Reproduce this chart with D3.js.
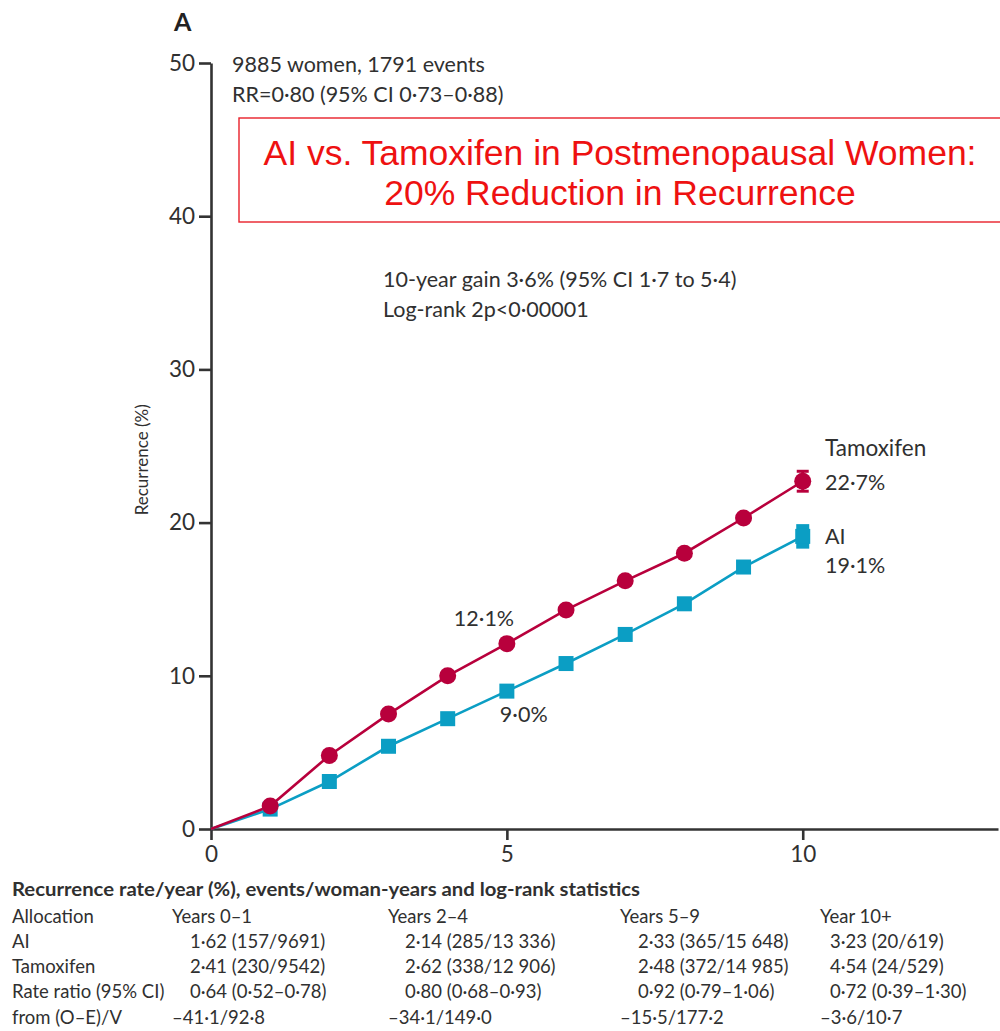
<!DOCTYPE html>
<html>
<head>
<meta charset="utf-8">
<script src="https://cdn.jsdelivr.net/npm/d3@7/dist/d3.min.js"></script>
<style>
  html, body { margin: 0; padding: 0; background: #fff; }
  svg { display: block; }
  text { font-family: Lato, "Open Sans", sans-serif; fill: #303030; }
</style>
</head>
<body>
<svg id="chart" width="1000" height="1031"></svg>
<script>
// Cumulative recurrence (%) by year since randomisation
const years = [0, 1, 2, 3, 4, 5, 6, 7, 8, 9, 10];
const tamoxifen = [0, 1.5, 4.8, 7.5, 10.0, 12.1, 14.3, 16.2, 18.0, 20.3, 22.7];
const ai = [0, 1.3, 3.1, 5.4, 7.2, 9.0, 10.8, 12.7, 14.7, 17.1, 19.1];
// 10-year standard errors shown as error bars
const tamoxifenSE = 0.65;
const aiSE = 0.8;

const yTicks = [0, 10, 20, 30, 40, 50];
const xTicks = [0, 5, 10];

// Summary table below the plot
const tableTitle = "Recurrence rate/year (%), events/woman-years and log-rank statistics";
const periods = ["Years 0–1", "Years 2–4", "Years 5–9", "Year 10+"];
const rowLabels = ["Allocation", "AI", "Tamoxifen", "Rate ratio (95% CI)", "from (O–E)/V"];
const aiRates = ["1·62 (157/9691)", "2·14 (285/13 336)", "2·33 (365/15 648)", "3·23 (20/619)"];
const tamRates = ["2·41 (230/9542)", "2·62 (338/12 906)", "2·48 (372/14 985)", "4·54 (24/529)"];
const rateRatios = ["0·64 (0·52–0·78)", "0·80 (0·68–0·93)", "0·92 (0·79–1·06)", "0·72 (0·39–1·30)"];
const oeV = ["–41·1/92·8", "–34·1/149·0", "–15·5/177·2", "–3·6/10·7"];

const RED = "#b8003c";
const TEAL = "#0b9ec4";
const INK = "#333333";

const svg = d3.select("#chart");

const x = d3.scaleLinear().domain([0, 13.3]).range([211, 998]);
const y = d3.scaleLinear().domain([0, 50]).range([829, 63]);

// Panel letter
svg.append("text").attr("x", 174).attr("y", 31)
  .style("font-size", "25px").style("font-weight", "bold").style("fill", "#222").text("A");

// Axes
const yAxis = svg.append("g").attr("transform", `translate(${x(0)},0)`)
  .call(d3.axisLeft(y).tickValues(yTicks).tickSize(12).tickSizeOuter(0).tickPadding(4));
const xAxis = svg.append("g").attr("transform", `translate(0,${y(0)})`)
  .call(d3.axisBottom(x).tickValues(xTicks).tickSize(11).tickSizeOuter(0).tickPadding(6));
[yAxis, xAxis].forEach(g => {
  g.select(".domain").attr("stroke", INK).attr("stroke-width", 2.6);
  g.selectAll(".tick line").attr("stroke", INK).attr("stroke-width", 2.6);
  g.selectAll(".tick text").style("font-size", "22.5px").style("font-family", "Lato, sans-serif").attr("fill", INK);
});

svg.append("text")
  .attr("transform", `translate(148,${y(24.1)}) rotate(-90)`)
  .attr("text-anchor", "middle")
  .style("font-size", "17px").text("Recurrence (%)");

// Curves
const line = d3.line().x((d, i) => x(years[i])).y(d => y(d));

svg.append("path").datum(ai).attr("d", line)
  .attr("fill", "none").attr("stroke", TEAL).attr("stroke-width", 2.6);
svg.append("path").datum(tamoxifen).attr("d", line)
  .attr("fill", "none").attr("stroke", RED).attr("stroke-width", 2.6);

// Error bars at 10 years
const last = years.length - 1;
svg.append("rect")
  .attr("x", x(years[last]) - 6.5).attr("width", 13)
  .attr("y", y(ai[last] + aiSE)).attr("height", y(ai[last] - aiSE) - y(ai[last] + aiSE))
  .attr("fill", TEAL);
const eb = svg.append("g").attr("stroke", RED).attr("stroke-width", 3);
eb.append("line").attr("x1", x(years[last])).attr("x2", x(years[last]))
  .attr("y1", y(tamoxifen[last] + tamoxifenSE)).attr("y2", y(tamoxifen[last] - tamoxifenSE));
[tamoxifen[last] + tamoxifenSE, tamoxifen[last] - tamoxifenSE].forEach(v => {
  eb.append("line").attr("x1", x(years[last]) - 6).attr("x2", x(years[last]) + 6)
    .attr("y1", y(v)).attr("y2", y(v));
});

// Markers (none at origin)
svg.append("g").selectAll("rect").data(ai.slice(1)).join("rect")
  .attr("x", (d, i) => x(years[i + 1]) - 7.5).attr("y", d => y(d) - 7.5)
  .attr("width", 15).attr("height", 15).attr("fill", TEAL);
svg.append("g").selectAll("circle").data(tamoxifen.slice(1)).join("circle")
  .attr("cx", (d, i) => x(years[i + 1])).attr("cy", d => y(d))
  .attr("r", 8.5).attr("fill", RED);

// Annotations
const note = (tx, ty, s, size) => svg.append("text").attr("x", tx).attr("y", ty)
  .style("font-size", (size || 21.5) + "px").text(s);

note(232, 72, "9885 women, 1791 events");
note(232, 102, "RR=0·80 (95% CI 0·73–0·88)");
note(383, 287, "10-year gain 3·6% (95% CI 1·7 to 5·4)");
note(383, 317, "Log-rank 2p<0·00001");
note(x(5) - 53, y(tamoxifen[5]) - 18, "12·1%");
note(x(5) - 7, y(ai[5]) + 31, "9·0%");
note(825, 456, "Tamoxifen", 22.5);
note(825, 490, "22·7%");
note(825, 544, "AI");
note(825, 573, "19·1%");

// Headline box
svg.append("rect").attr("x", 239).attr("y", 118).attr("width", 770).attr("height", 104)
  .attr("fill", "#fff").attr("stroke", "#e8202a").attr("stroke-width", 1.4);
const head = svg.append("text").attr("text-anchor", "middle")
  .style("font-family", "'Liberation Sans', Arial, sans-serif").style("font-size", "35.5px");
head.append("tspan").attr("x", 620).attr("y", 165).style("fill", "#ee1111")
  .text("AI vs. Tamoxifen in Postmenopausal Women:");
head.append("tspan").attr("x", 620).attr("y", 205).style("fill", "#ee1111")
  .text("20% Reduction in Recurrence");

// Table
const t = svg.append("g").style("font-size", "18.5px");
t.append("text").attr("x", 12).attr("y", 896).style("font-weight", "bold")
  .attr("textLength", 628).attr("lengthAdjust", "spacingAndGlyphs").text(tableTitle);
const rowY = [923, 948, 973, 998, 1024];
const colX = [172, 388, 620, 820];
const valX = [190, 405, 638, 830];
rowLabels.forEach((lab, r) => t.append("text").attr("x", 12).attr("y", rowY[r]).text(lab));
periods.forEach((p, c) => t.append("text").attr("x", colX[c]).attr("y", rowY[0]).text(p));
[aiRates, tamRates, rateRatios].forEach((row, r) => {
  row.forEach((v, c) => t.append("text").attr("x", valX[c]).attr("y", rowY[r + 1]).text(v));
});
oeV.forEach((v, c) => t.append("text").attr("x", colX[c]).attr("y", rowY[4]).text(v));
</script>
</body>
</html>
